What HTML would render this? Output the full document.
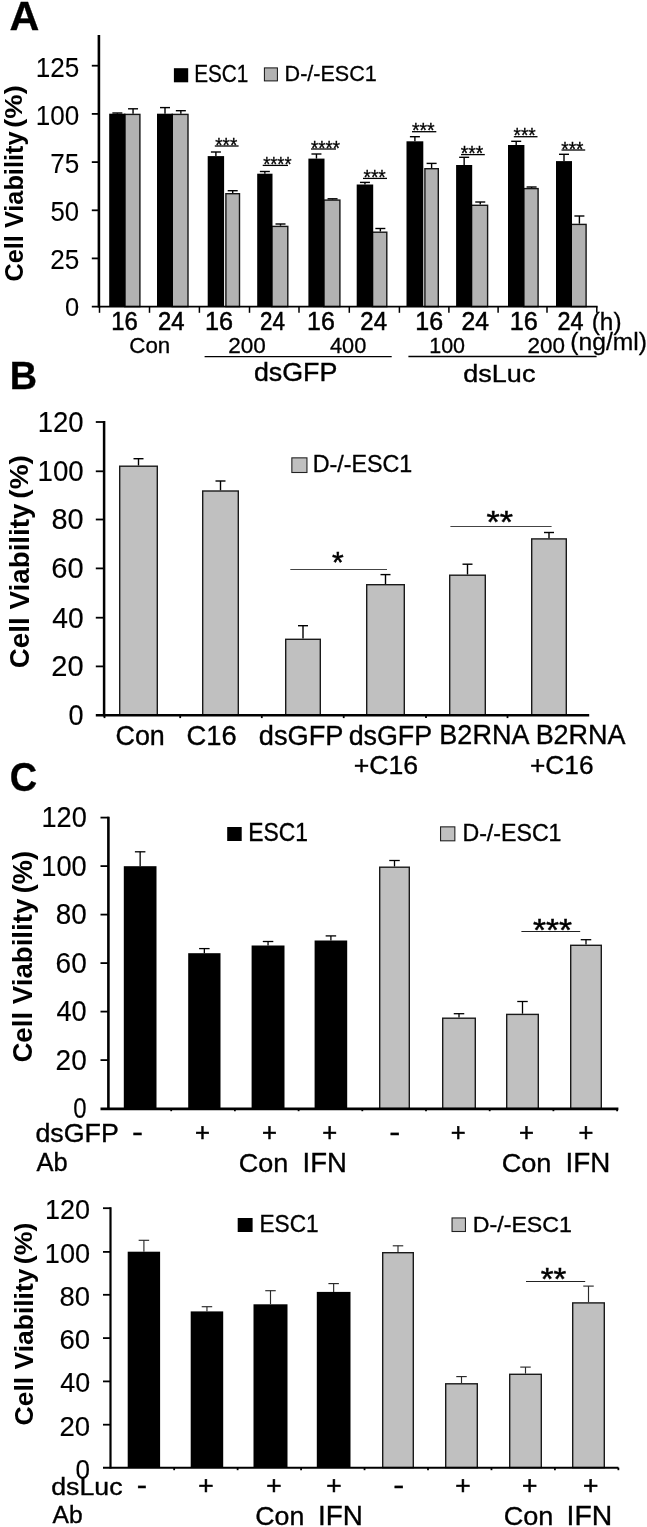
<!DOCTYPE html>
<html lang="en">
<head>
<meta charset="utf-8">
<title>Cell Viability figure</title>
<style>
html,body{margin:0;padding:0;background:#fff;}
body{width:647px;height:1527px;overflow:hidden;}
svg{display:block;font-family:"Liberation Sans",sans-serif;}
</style>
</head>
<body>
<svg width="647" height="1527" viewBox="0 0 647 1527">
<rect x="0" y="0" width="647" height="1527" fill="#fff"/>
<g id="fig">
<text transform="translate(9.57 30.00) scale(0.2067 0.2022)" font-size="200" font-weight="bold" fill="#000" stroke="#000" stroke-width="1.5">A</text>
<text transform="translate(22.90 281.51) rotate(-90) scale(0.1265 0.1310)" font-size="200" font-weight="bold" fill="#000">Cell Viability</text>
<text transform="translate(21.59 127.77) rotate(-90) scale(0.1368 0.1241)" font-size="200" font-weight="bold" fill="#000">(%)</text>
<text transform="translate(35.74 76.52) scale(0.1306 0.1380)" font-size="200" fill="#000" stroke="#000" stroke-width="0.7">125</text>
<text transform="translate(35.75 124.72) scale(0.1302 0.1380)" font-size="200" fill="#000" stroke="#000" stroke-width="0.7">100</text>
<text transform="translate(50.30 172.92) scale(0.1304 0.1400)" font-size="200" fill="#000" stroke="#000" stroke-width="0.7">75</text>
<text transform="translate(50.57 221.12) scale(0.1285 0.1380)" font-size="200" fill="#000" stroke="#000" stroke-width="0.8">50</text>
<text transform="translate(50.30 269.32) scale(0.1304 0.1380)" font-size="200" fill="#000" stroke="#000" stroke-width="0.7">25</text>
<text transform="translate(64.88 315.64) scale(0.1271 0.1317)" font-size="200" fill="#000" stroke="#000" stroke-width="0.8">0</text>
<rect x="124.70" y="114.40" width="15.20" height="192.20" fill="#b2b2b2" stroke="#161616" stroke-width="1.4"/>
<rect x="109.20" y="113.70" width="16.30" height="192.90" fill="#000"/>
<line x1="117.35" y1="113.70" x2="117.35" y2="113.00" stroke="#000" stroke-width="1.4"/>
<line x1="112.35" y1="113.00" x2="122.35" y2="113.00" stroke="#000" stroke-width="1.4"/>
<line x1="133.05" y1="113.70" x2="133.05" y2="108.80" stroke="#000" stroke-width="1.4"/>
<line x1="128.05" y1="108.80" x2="138.05" y2="108.80" stroke="#000" stroke-width="1.4"/>
<rect x="172.20" y="114.40" width="15.80" height="192.20" fill="#b2b2b2" stroke="#161616" stroke-width="1.4"/>
<rect x="157.00" y="113.70" width="16.00" height="192.90" fill="#000"/>
<line x1="165.00" y1="113.70" x2="165.00" y2="107.60" stroke="#000" stroke-width="1.4"/>
<line x1="160.00" y1="107.60" x2="170.00" y2="107.60" stroke="#000" stroke-width="1.4"/>
<line x1="180.85" y1="113.70" x2="180.85" y2="110.70" stroke="#000" stroke-width="1.4"/>
<line x1="175.85" y1="110.70" x2="185.85" y2="110.70" stroke="#000" stroke-width="1.4"/>
<rect x="225.90" y="193.70" width="13.60" height="112.90" fill="#b2b2b2" stroke="#161616" stroke-width="1.4"/>
<rect x="207.70" y="156.10" width="16.40" height="150.50" fill="#000"/>
<line x1="215.90" y1="156.10" x2="215.90" y2="152.00" stroke="#000" stroke-width="1.4"/>
<line x1="210.90" y1="152.00" x2="220.90" y2="152.00" stroke="#000" stroke-width="1.4"/>
<line x1="232.70" y1="193.00" x2="232.70" y2="190.70" stroke="#000" stroke-width="1.4"/>
<line x1="227.70" y1="190.70" x2="237.70" y2="190.70" stroke="#000" stroke-width="1.4"/>
<rect x="271.70" y="226.40" width="16.10" height="80.20" fill="#b2b2b2" stroke="#161616" stroke-width="1.4"/>
<rect x="257.20" y="173.70" width="15.30" height="132.90" fill="#000"/>
<line x1="264.85" y1="173.70" x2="264.85" y2="171.50" stroke="#000" stroke-width="1.4"/>
<line x1="259.85" y1="171.50" x2="269.85" y2="171.50" stroke="#000" stroke-width="1.4"/>
<line x1="280.50" y1="225.70" x2="280.50" y2="224.00" stroke="#000" stroke-width="1.4"/>
<line x1="275.50" y1="224.00" x2="285.50" y2="224.00" stroke="#000" stroke-width="1.4"/>
<rect x="323.70" y="200.10" width="16.20" height="106.50" fill="#b2b2b2" stroke="#161616" stroke-width="1.4"/>
<rect x="308.40" y="158.60" width="16.10" height="148.00" fill="#000"/>
<line x1="316.45" y1="158.60" x2="316.45" y2="154.00" stroke="#000" stroke-width="1.4"/>
<line x1="311.45" y1="154.00" x2="321.45" y2="154.00" stroke="#000" stroke-width="1.4"/>
<line x1="332.55" y1="199.40" x2="332.55" y2="198.80" stroke="#000" stroke-width="1.4"/>
<line x1="327.55" y1="198.80" x2="337.55" y2="198.80" stroke="#000" stroke-width="1.4"/>
<rect x="372.40" y="232.20" width="14.40" height="74.40" fill="#b2b2b2" stroke="#161616" stroke-width="1.4"/>
<rect x="356.70" y="184.50" width="16.50" height="122.10" fill="#000"/>
<line x1="364.95" y1="184.50" x2="364.95" y2="182.40" stroke="#000" stroke-width="1.4"/>
<line x1="359.95" y1="182.40" x2="369.95" y2="182.40" stroke="#000" stroke-width="1.4"/>
<line x1="380.35" y1="231.50" x2="380.35" y2="228.50" stroke="#000" stroke-width="1.4"/>
<line x1="375.35" y1="228.50" x2="385.35" y2="228.50" stroke="#000" stroke-width="1.4"/>
<rect x="424.90" y="168.70" width="13.40" height="137.90" fill="#b2b2b2" stroke="#161616" stroke-width="1.4"/>
<rect x="406.50" y="141.30" width="16.80" height="165.30" fill="#000"/>
<line x1="414.90" y1="141.30" x2="414.90" y2="136.70" stroke="#000" stroke-width="1.4"/>
<line x1="409.90" y1="136.70" x2="419.90" y2="136.70" stroke="#000" stroke-width="1.4"/>
<line x1="431.60" y1="168.00" x2="431.60" y2="163.40" stroke="#000" stroke-width="1.4"/>
<line x1="426.60" y1="163.40" x2="436.60" y2="163.40" stroke="#000" stroke-width="1.4"/>
<rect x="471.40" y="205.30" width="16.20" height="101.30" fill="#b2b2b2" stroke="#161616" stroke-width="1.4"/>
<rect x="456.10" y="165.00" width="16.10" height="141.60" fill="#000"/>
<line x1="464.15" y1="165.00" x2="464.15" y2="157.30" stroke="#000" stroke-width="1.4"/>
<line x1="459.15" y1="157.30" x2="469.15" y2="157.30" stroke="#000" stroke-width="1.4"/>
<line x1="480.25" y1="204.60" x2="480.25" y2="202.00" stroke="#000" stroke-width="1.4"/>
<line x1="475.25" y1="202.00" x2="485.25" y2="202.00" stroke="#000" stroke-width="1.4"/>
<rect x="523.60" y="188.60" width="14.50" height="118.00" fill="#b2b2b2" stroke="#161616" stroke-width="1.4"/>
<rect x="508.00" y="145.00" width="16.40" height="161.60" fill="#000"/>
<line x1="516.20" y1="145.00" x2="516.20" y2="141.30" stroke="#000" stroke-width="1.4"/>
<line x1="511.20" y1="141.30" x2="521.20" y2="141.30" stroke="#000" stroke-width="1.4"/>
<line x1="531.60" y1="187.90" x2="531.60" y2="187.00" stroke="#000" stroke-width="1.4"/>
<line x1="526.60" y1="187.00" x2="536.60" y2="187.00" stroke="#000" stroke-width="1.4"/>
<rect x="571.20" y="224.40" width="14.90" height="82.20" fill="#b2b2b2" stroke="#161616" stroke-width="1.4"/>
<rect x="556.00" y="161.10" width="16.00" height="145.50" fill="#000"/>
<line x1="564.00" y1="161.10" x2="564.00" y2="154.30" stroke="#000" stroke-width="1.4"/>
<line x1="559.00" y1="154.30" x2="569.00" y2="154.30" stroke="#000" stroke-width="1.4"/>
<line x1="579.40" y1="223.70" x2="579.40" y2="216.00" stroke="#000" stroke-width="1.4"/>
<line x1="574.40" y1="216.00" x2="584.40" y2="216.00" stroke="#000" stroke-width="1.4"/>
<line x1="98.90" y1="35.00" x2="98.90" y2="307.50" stroke="#000" stroke-width="2.6"/>
<line x1="91.80" y1="306.60" x2="597.60" y2="306.60" stroke="#000" stroke-width="1.9"/>
<line x1="91.80" y1="65.70" x2="98.90" y2="65.70" stroke="#000" stroke-width="1.8"/>
<line x1="91.80" y1="113.90" x2="98.90" y2="113.90" stroke="#000" stroke-width="1.8"/>
<line x1="91.80" y1="162.10" x2="98.90" y2="162.10" stroke="#000" stroke-width="1.8"/>
<line x1="91.80" y1="210.30" x2="98.90" y2="210.30" stroke="#000" stroke-width="1.8"/>
<line x1="91.80" y1="258.40" x2="98.90" y2="258.40" stroke="#000" stroke-width="1.8"/>
<line x1="99.50" y1="306.60" x2="99.50" y2="312.80" stroke="#000" stroke-width="1.5"/>
<line x1="149.50" y1="306.60" x2="149.50" y2="312.80" stroke="#000" stroke-width="1.5"/>
<line x1="199.40" y1="306.60" x2="199.40" y2="312.80" stroke="#000" stroke-width="1.5"/>
<line x1="249.50" y1="306.60" x2="249.50" y2="312.80" stroke="#000" stroke-width="1.5"/>
<line x1="299.00" y1="306.60" x2="299.00" y2="312.80" stroke="#000" stroke-width="1.5"/>
<line x1="349.30" y1="306.60" x2="349.30" y2="312.80" stroke="#000" stroke-width="1.5"/>
<line x1="399.40" y1="306.60" x2="399.40" y2="312.80" stroke="#000" stroke-width="1.5"/>
<line x1="448.90" y1="306.60" x2="448.90" y2="312.80" stroke="#000" stroke-width="1.5"/>
<line x1="498.10" y1="306.60" x2="498.10" y2="312.80" stroke="#000" stroke-width="1.5"/>
<line x1="547.00" y1="306.60" x2="547.00" y2="312.80" stroke="#000" stroke-width="1.5"/>
<line x1="596.80" y1="306.60" x2="596.80" y2="312.80" stroke="#000" stroke-width="1.5"/>
<rect x="173.90" y="68.20" width="14.30" height="14.10" fill="#000"/>
<text transform="translate(194.14 82.20) scale(0.1038 0.1207)" font-size="200" fill="#000" stroke="#000" stroke-width="2.7">ESC1</text>
<rect x="264.40" y="67.90" width="13.00" height="13.00" fill="#b2b2b2" stroke="#111" stroke-width="1.0"/>
<text transform="translate(284.57 80.80) scale(0.1078 0.1124)" font-size="200" fill="#000" stroke="#000" stroke-width="2.7">D-/-ESC1</text>
<text transform="translate(215.22 151.61) scale(0.0943 0.0971)" font-size="200" fill="#000" stroke="#000" stroke-width="3.1">***</text>
<line x1="214.80" y1="146.00" x2="238.60" y2="146.00" stroke="#000" stroke-width="1.3"/>
<text transform="translate(263.13 171.01) scale(0.0911 0.0971)" font-size="200" fill="#000" stroke="#000" stroke-width="3.2">****</text>
<line x1="262.70" y1="165.40" x2="288.00" y2="165.40" stroke="#000" stroke-width="1.3"/>
<text transform="translate(311.02 154.61) scale(0.0931 0.0971)" font-size="200" fill="#000" stroke="#000" stroke-width="3.2">****</text>
<line x1="311.00" y1="149.00" x2="336.00" y2="149.00" stroke="#000" stroke-width="1.3"/>
<text transform="translate(363.51 184.01) scale(0.0952 0.0971)" font-size="200" fill="#000" stroke="#000" stroke-width="3.1">***</text>
<line x1="363.00" y1="178.40" x2="387.00" y2="178.40" stroke="#000" stroke-width="1.3"/>
<text transform="translate(411.91 137.31) scale(0.0974 0.0971)" font-size="200" fill="#000" stroke="#000" stroke-width="3.1">***</text>
<line x1="412.00" y1="131.70" x2="436.30" y2="131.70" stroke="#000" stroke-width="1.3"/>
<text transform="translate(460.71 160.21) scale(0.0961 0.0971)" font-size="200" fill="#000" stroke="#000" stroke-width="3.1">***</text>
<line x1="461.00" y1="154.60" x2="484.80" y2="154.60" stroke="#000" stroke-width="1.3"/>
<text transform="translate(513.51 142.31) scale(0.0952 0.0971)" font-size="200" fill="#000" stroke="#000" stroke-width="3.1">***</text>
<line x1="513.80" y1="136.70" x2="537.50" y2="136.70" stroke="#000" stroke-width="1.3"/>
<text transform="translate(561.21 155.61) scale(0.0956 0.0971)" font-size="200" fill="#000" stroke="#000" stroke-width="3.1">***</text>
<line x1="561.50" y1="150.00" x2="585.20" y2="150.00" stroke="#000" stroke-width="1.3"/>
<text transform="translate(111.21 329.70) scale(0.1191 0.1250)" font-size="200" fill="#000" stroke="#000" stroke-width="4.1">16</text>
<text transform="translate(157.91 329.70) scale(0.1194 0.1250)" font-size="200" fill="#000" stroke="#000" stroke-width="4.1">24</text>
<text transform="translate(204.91 329.70) scale(0.1261 0.1250)" font-size="200" fill="#000" stroke="#000" stroke-width="4.0">16</text>
<text transform="translate(259.98 329.70) scale(0.1121 0.1250)" font-size="200" fill="#000" stroke="#000" stroke-width="4.2">24</text>
<text transform="translate(307.03 329.70) scale(0.1246 0.1250)" font-size="200" fill="#000" stroke="#000" stroke-width="4.0">16</text>
<text transform="translate(360.30 329.70) scale(0.1199 0.1250)" font-size="200" fill="#000" stroke="#000" stroke-width="4.1">24</text>
<text transform="translate(415.32 329.70) scale(0.1251 0.1250)" font-size="200" fill="#000" stroke="#000" stroke-width="4.0">16</text>
<text transform="translate(461.57 329.70) scale(0.1233 0.1250)" font-size="200" fill="#000" stroke="#000" stroke-width="4.0">24</text>
<text transform="translate(509.71 329.70) scale(0.1261 0.1250)" font-size="200" fill="#000" stroke="#000" stroke-width="4.0">16</text>
<text transform="translate(557.43 329.70) scale(0.1170 0.1250)" font-size="200" fill="#000" stroke="#000" stroke-width="4.1">24</text>
<text transform="translate(591.74 329.57) scale(0.1218 0.1198)" font-size="200" fill="#000" stroke="#000" stroke-width="2.5">(h)</text>
<text transform="translate(129.28 352.60) scale(0.1116 0.1079)" font-size="200" fill="#000" stroke="#000" stroke-width="2.7">Con</text>
<text transform="translate(228.27 352.80) scale(0.1127 0.1079)" font-size="200" fill="#000" stroke="#000" stroke-width="2.7">200</text>
<text transform="translate(329.97 352.80) scale(0.1087 0.1079)" font-size="200" fill="#000" stroke="#000" stroke-width="2.8">400</text>
<text transform="translate(429.19 352.90) scale(0.1074 0.1079)" font-size="200" fill="#000" stroke="#000" stroke-width="2.8">100</text>
<text transform="translate(527.58 352.90) scale(0.1123 0.1079)" font-size="200" fill="#000" stroke="#000" stroke-width="2.7">200</text>
<text transform="translate(570.32 350.25) scale(0.1231 0.1203)" font-size="200" fill="#000" stroke="#000" stroke-width="2.5">(ng/ml)</text>
<line x1="204.60" y1="356.70" x2="391.70" y2="356.70" stroke="#000" stroke-width="1.3"/>
<line x1="408.40" y1="356.50" x2="596.60" y2="356.50" stroke="#000" stroke-width="1.3"/>
<text transform="translate(253.93 381.30) scale(0.1341 0.1269)" font-size="200" fill="#000" stroke="#000" stroke-width="3.1">dsGFP</text>
<text transform="translate(463.32 382.00) scale(0.1351 0.1241)" font-size="200" fill="#000" stroke="#000" stroke-width="3.1">dsLuc</text>
<text transform="translate(9.74 389.10) scale(0.1893 0.1986)" font-size="200" font-weight="bold" fill="#000" stroke="#000" stroke-width="1.5">B</text>
<text transform="translate(29.20 668.31) rotate(-90) scale(0.1391 0.1352)" font-size="200" font-weight="bold" fill="#000">Cell Viability</text>
<text transform="translate(28.47 498.70) rotate(-90) scale(0.1402 0.1316)" font-size="200" font-weight="bold" fill="#000">(%)</text>
<text transform="translate(37.74 431.91) scale(0.1376 0.1444)" font-size="200" fill="#000" stroke="#000" stroke-width="1.1">120</text>
<text transform="translate(37.53 481.21) scale(0.1383 0.1444)" font-size="200" fill="#000" stroke="#000" stroke-width="1.1">100</text>
<text transform="translate(51.50 529.41) scale(0.1447 0.1444)" font-size="200" fill="#000" stroke="#000" stroke-width="1.0">80</text>
<text transform="translate(51.35 578.31) scale(0.1454 0.1444)" font-size="200" fill="#000" stroke="#000" stroke-width="1.0">60</text>
<text transform="translate(52.24 627.61) scale(0.1412 0.1444)" font-size="200" fill="#000" stroke="#000" stroke-width="1.1">40</text>
<text transform="translate(51.35 676.31) scale(0.1454 0.1444)" font-size="200" fill="#000" stroke="#000" stroke-width="1.0">20</text>
<text transform="translate(68.52 725.31) scale(0.1354 0.1444)" font-size="200" fill="#000" stroke="#000" stroke-width="1.1">0</text>
<rect x="119.70" y="466.20" width="37.60" height="249.10" fill="#c0c0c0" stroke="#1a1a1a" stroke-width="1.4"/>
<line x1="138.50" y1="465.50" x2="138.50" y2="458.70" stroke="#000" stroke-width="1.4"/>
<line x1="133.50" y1="458.70" x2="143.50" y2="458.70" stroke="#000" stroke-width="1.4"/>
<rect x="202.70" y="491.00" width="35.60" height="224.30" fill="#c0c0c0" stroke="#1a1a1a" stroke-width="1.4"/>
<line x1="220.50" y1="490.30" x2="220.50" y2="481.00" stroke="#000" stroke-width="1.4"/>
<line x1="215.50" y1="481.00" x2="225.50" y2="481.00" stroke="#000" stroke-width="1.4"/>
<rect x="285.70" y="639.30" width="34.60" height="76.00" fill="#c0c0c0" stroke="#1a1a1a" stroke-width="1.4"/>
<line x1="303.00" y1="638.60" x2="303.00" y2="625.70" stroke="#000" stroke-width="1.4"/>
<line x1="298.00" y1="625.70" x2="308.00" y2="625.70" stroke="#000" stroke-width="1.4"/>
<rect x="366.70" y="584.70" width="37.60" height="130.60" fill="#c0c0c0" stroke="#1a1a1a" stroke-width="1.4"/>
<line x1="385.50" y1="584.00" x2="385.50" y2="574.60" stroke="#000" stroke-width="1.4"/>
<line x1="380.50" y1="574.60" x2="390.50" y2="574.60" stroke="#000" stroke-width="1.4"/>
<rect x="449.70" y="575.20" width="35.60" height="140.10" fill="#c0c0c0" stroke="#1a1a1a" stroke-width="1.4"/>
<line x1="467.50" y1="574.50" x2="467.50" y2="564.20" stroke="#000" stroke-width="1.4"/>
<line x1="462.50" y1="564.20" x2="472.50" y2="564.20" stroke="#000" stroke-width="1.4"/>
<rect x="531.70" y="538.90" width="34.60" height="176.40" fill="#c0c0c0" stroke="#1a1a1a" stroke-width="1.4"/>
<line x1="549.00" y1="538.20" x2="549.00" y2="532.50" stroke="#000" stroke-width="1.4"/>
<line x1="544.00" y1="532.50" x2="554.00" y2="532.50" stroke="#000" stroke-width="1.4"/>
<line x1="104.10" y1="421.10" x2="104.10" y2="716.50" stroke="#000" stroke-width="2.5"/>
<line x1="95.80" y1="715.30" x2="589.20" y2="715.30" stroke="#000" stroke-width="2.5"/>
<line x1="95.80" y1="666.40" x2="104.50" y2="666.40" stroke="#000" stroke-width="1.8"/>
<line x1="95.80" y1="617.70" x2="104.50" y2="617.70" stroke="#000" stroke-width="1.8"/>
<line x1="95.80" y1="568.40" x2="104.50" y2="568.40" stroke="#000" stroke-width="1.8"/>
<line x1="95.80" y1="519.50" x2="104.50" y2="519.50" stroke="#000" stroke-width="1.8"/>
<line x1="95.80" y1="471.30" x2="104.50" y2="471.30" stroke="#000" stroke-width="1.8"/>
<line x1="95.80" y1="422.00" x2="104.50" y2="422.00" stroke="#000" stroke-width="1.8"/>
<line x1="104.50" y1="715.30" x2="104.50" y2="718.10" stroke="#000" stroke-width="1.8"/>
<line x1="180.20" y1="715.30" x2="180.20" y2="718.10" stroke="#000" stroke-width="1.8"/>
<line x1="261.80" y1="715.30" x2="261.80" y2="718.10" stroke="#000" stroke-width="1.8"/>
<line x1="343.70" y1="715.30" x2="343.70" y2="718.10" stroke="#000" stroke-width="1.8"/>
<line x1="426.00" y1="715.30" x2="426.00" y2="718.10" stroke="#000" stroke-width="1.8"/>
<line x1="507.50" y1="715.30" x2="507.50" y2="718.10" stroke="#000" stroke-width="1.8"/>
<rect x="291.85" y="457.85" width="15.10" height="14.65" fill="#c0c0c0" stroke="#222" stroke-width="1.1"/>
<text transform="translate(312.74 472.30) scale(0.1164 0.1193)" font-size="200" fill="#000" stroke="#000" stroke-width="3.0">D-/-ESC1</text>
<text transform="translate(331.95 572.41) scale(0.1500 0.1471)" font-size="200" fill="#000" stroke="#000" stroke-width="3.4">*</text>
<line x1="290.30" y1="569.50" x2="387.00" y2="569.50" stroke="#444" stroke-width="1.0"/>
<text transform="translate(486.49 533.18) scale(0.1707 0.1614)" font-size="200" fill="#000" stroke="#000" stroke-width="3.0">**</text>
<line x1="450.40" y1="526.50" x2="551.60" y2="526.50" stroke="#444" stroke-width="1.0"/>
<text transform="translate(115.45 744.50) scale(0.1346 0.1386)" font-size="200" fill="#000" stroke="#000" stroke-width="2.6">Con</text>
<text transform="translate(186.53 744.50) scale(0.1367 0.1357)" font-size="200" fill="#000" stroke="#000" stroke-width="2.6">C16</text>
<text transform="translate(258.81 744.60) scale(0.1359 0.1338)" font-size="200" fill="#000" stroke="#000" stroke-width="2.6">dsGFP</text>
<text transform="translate(348.63 744.60) scale(0.1343 0.1338)" font-size="200" fill="#000" stroke="#000" stroke-width="2.6">dsGFP</text>
<text transform="translate(353.67 774.20) scale(0.1333 0.1329)" font-size="200" fill="#000" stroke="#000" stroke-width="2.6">+C16</text>
<text transform="translate(439.34 744.30) scale(0.1352 0.1343)" font-size="200" fill="#000" stroke="#000" stroke-width="2.6">B2RNA</text>
<text transform="translate(535.64 744.30) scale(0.1347 0.1343)" font-size="200" fill="#000" stroke="#000" stroke-width="2.6">B2RNA</text>
<text transform="translate(529.99 774.20) scale(0.1314 0.1329)" font-size="200" fill="#000" stroke="#000" stroke-width="2.6">+C16</text>
<text transform="translate(9.69 790.69) scale(0.1893 0.2042)" font-size="200" font-weight="bold" fill="#000" stroke="#000" stroke-width="1.5">C</text>
<text transform="translate(32.00 1062.61) rotate(-90) scale(0.1383 0.1366)" font-size="200" font-weight="bold" fill="#000">Cell Viability</text>
<text transform="translate(31.85 893.16) rotate(-90) scale(0.1357 0.1369)" font-size="200" font-weight="bold" fill="#000">(%)</text>
<text transform="translate(41.46 827.21) scale(0.1357 0.1465)" font-size="200" fill="#000" stroke="#000" stroke-width="1.1">120</text>
<text transform="translate(41.25 875.71) scale(0.1363 0.1465)" font-size="200" fill="#000" stroke="#000" stroke-width="1.1">100</text>
<text transform="translate(55.75 924.21) scale(0.1393 0.1465)" font-size="200" fill="#000" stroke="#000" stroke-width="1.1">80</text>
<text transform="translate(55.60 972.71) scale(0.1400 0.1465)" font-size="200" fill="#000" stroke="#000" stroke-width="1.0">60</text>
<text transform="translate(56.46 1021.21) scale(0.1360 0.1465)" font-size="200" fill="#000" stroke="#000" stroke-width="1.1">40</text>
<text transform="translate(55.60 1069.71) scale(0.1400 0.1465)" font-size="200" fill="#000" stroke="#000" stroke-width="1.0">20</text>
<text transform="translate(73.24 1118.21) scale(0.1198 0.1465)" font-size="200" fill="#000" stroke="#000" stroke-width="1.1">0</text>
<rect x="123.80" y="866.20" width="32.70" height="242.40" fill="#000"/>
<line x1="140.15" y1="866.20" x2="140.15" y2="851.80" stroke="#000" stroke-width="1.3"/>
<line x1="134.90" y1="851.80" x2="145.40" y2="851.80" stroke="#000" stroke-width="1.3"/>
<rect x="188.20" y="953.20" width="32.30" height="155.40" fill="#000"/>
<line x1="204.35" y1="953.20" x2="204.35" y2="948.60" stroke="#000" stroke-width="1.3"/>
<line x1="199.10" y1="948.60" x2="209.60" y2="948.60" stroke="#000" stroke-width="1.3"/>
<rect x="251.60" y="945.50" width="32.90" height="163.10" fill="#000"/>
<line x1="268.05" y1="945.50" x2="268.05" y2="941.50" stroke="#000" stroke-width="1.3"/>
<line x1="262.80" y1="941.50" x2="273.30" y2="941.50" stroke="#000" stroke-width="1.3"/>
<rect x="314.60" y="940.50" width="32.60" height="168.10" fill="#000"/>
<line x1="330.90" y1="940.50" x2="330.90" y2="935.90" stroke="#000" stroke-width="1.3"/>
<line x1="325.65" y1="935.90" x2="336.15" y2="935.90" stroke="#000" stroke-width="1.3"/>
<rect x="379.70" y="867.20" width="29.60" height="241.40" fill="#c0c0c0" stroke="#1a1a1a" stroke-width="1.4"/>
<line x1="394.50" y1="866.50" x2="394.50" y2="860.50" stroke="#000" stroke-width="1.3"/>
<line x1="389.25" y1="860.50" x2="399.75" y2="860.50" stroke="#000" stroke-width="1.3"/>
<rect x="442.70" y="1018.20" width="32.60" height="90.40" fill="#c0c0c0" stroke="#1a1a1a" stroke-width="1.4"/>
<line x1="459.00" y1="1017.50" x2="459.00" y2="1013.70" stroke="#000" stroke-width="1.3"/>
<line x1="453.75" y1="1013.70" x2="464.25" y2="1013.70" stroke="#000" stroke-width="1.3"/>
<rect x="506.70" y="1014.40" width="31.60" height="94.20" fill="#c0c0c0" stroke="#1a1a1a" stroke-width="1.4"/>
<line x1="522.50" y1="1013.70" x2="522.50" y2="1001.50" stroke="#000" stroke-width="1.3"/>
<line x1="517.25" y1="1001.50" x2="527.75" y2="1001.50" stroke="#000" stroke-width="1.3"/>
<rect x="570.70" y="945.30" width="30.60" height="163.30" fill="#c0c0c0" stroke="#1a1a1a" stroke-width="1.4"/>
<line x1="586.00" y1="944.60" x2="586.00" y2="939.70" stroke="#000" stroke-width="1.3"/>
<line x1="580.75" y1="939.70" x2="591.25" y2="939.70" stroke="#000" stroke-width="1.3"/>
<line x1="108.40" y1="816.70" x2="108.40" y2="1109.80" stroke="#000" stroke-width="2.6"/>
<line x1="100.50" y1="1108.90" x2="618.40" y2="1108.90" stroke="#000" stroke-width="2.6"/>
<line x1="100.50" y1="1060.10" x2="108.80" y2="1060.10" stroke="#000" stroke-width="1.8"/>
<line x1="100.50" y1="1011.60" x2="108.80" y2="1011.60" stroke="#000" stroke-width="1.8"/>
<line x1="100.50" y1="963.10" x2="108.80" y2="963.10" stroke="#000" stroke-width="1.8"/>
<line x1="100.50" y1="914.60" x2="108.80" y2="914.60" stroke="#000" stroke-width="1.8"/>
<line x1="100.50" y1="866.10" x2="108.80" y2="866.10" stroke="#000" stroke-width="1.8"/>
<line x1="100.50" y1="817.60" x2="108.80" y2="817.60" stroke="#000" stroke-width="1.8"/>
<line x1="171.20" y1="1108.60" x2="171.20" y2="1111.20" stroke="#000" stroke-width="1.8"/>
<line x1="234.90" y1="1108.60" x2="234.90" y2="1111.20" stroke="#000" stroke-width="1.8"/>
<line x1="298.60" y1="1108.60" x2="298.60" y2="1111.20" stroke="#000" stroke-width="1.8"/>
<line x1="362.30" y1="1108.60" x2="362.30" y2="1111.20" stroke="#000" stroke-width="1.8"/>
<line x1="426.00" y1="1108.60" x2="426.00" y2="1111.20" stroke="#000" stroke-width="1.8"/>
<line x1="489.70" y1="1108.60" x2="489.70" y2="1111.20" stroke="#000" stroke-width="1.8"/>
<line x1="553.40" y1="1108.60" x2="553.40" y2="1111.20" stroke="#000" stroke-width="1.8"/>
<line x1="617.10" y1="1108.60" x2="617.10" y2="1111.20" stroke="#000" stroke-width="1.8"/>
<rect x="227.20" y="827.00" width="14.50" height="14.00" fill="#000"/>
<text transform="translate(248.17 841.40) scale(0.1143 0.1250)" font-size="200" fill="#000" stroke="#000" stroke-width="2.9">ESC1</text>
<rect x="440.55" y="826.85" width="14.30" height="13.95" fill="#c0c0c0" stroke="#222" stroke-width="1.1"/>
<text transform="translate(462.45 841.40) scale(0.1158 0.1207)" font-size="200" fill="#000" stroke="#000" stroke-width="3.0">D-/-ESC1</text>
<text transform="translate(532.90 940.78) scale(0.1675 0.1600)" font-size="200" fill="#000" stroke="#000" stroke-width="3.1">***</text>
<line x1="521.40" y1="931.50" x2="580.20" y2="931.50" stroke="#222" stroke-width="1.0"/>
<text transform="translate(35.43 1141.50) scale(0.1341 0.1276)" font-size="200" fill="#000" stroke="#000" stroke-width="2.7">dsGFP</text>
<text transform="translate(36.50 1171.40) scale(0.1271 0.1269)" font-size="200" fill="#000" stroke="#000" stroke-width="2.8">Ab</text>
<text transform="translate(132.01 1140.99) scale(0.1653 0.1375)" font-size="200" fill="#000" stroke="#000" stroke-width="2.3">-</text>
<text transform="translate(389.21 1140.99) scale(0.1653 0.1375)" font-size="200" fill="#000" stroke="#000" stroke-width="2.3">-</text>
<text transform="translate(194.92 1140.98) scale(0.1278 0.1265)" font-size="200" fill="#000" stroke="#000" stroke-width="3.9">+</text>
<text transform="translate(262.02 1140.98) scale(0.1278 0.1265)" font-size="200" fill="#000" stroke="#000" stroke-width="3.9">+</text>
<text transform="translate(322.32 1140.98) scale(0.1278 0.1265)" font-size="200" fill="#000" stroke="#000" stroke-width="3.9">+</text>
<text transform="translate(450.72 1140.98) scale(0.1278 0.1265)" font-size="200" fill="#000" stroke="#000" stroke-width="3.9">+</text>
<text transform="translate(518.92 1140.98) scale(0.1278 0.1265)" font-size="200" fill="#000" stroke="#000" stroke-width="3.9">+</text>
<text transform="translate(578.52 1140.98) scale(0.1278 0.1265)" font-size="200" fill="#000" stroke="#000" stroke-width="3.9">+</text>
<text transform="translate(238.85 1171.60) scale(0.1349 0.1329)" font-size="200" fill="#000" stroke="#000" stroke-width="2.6">Con</text>
<text transform="translate(302.62 1171.60) scale(0.1375 0.1348)" font-size="200" fill="#000" stroke="#000" stroke-width="2.6">IFN</text>
<text transform="translate(501.64 1171.60) scale(0.1358 0.1329)" font-size="200" fill="#000" stroke="#000" stroke-width="2.6">Con</text>
<text transform="translate(565.50 1171.60) scale(0.1389 0.1348)" font-size="200" fill="#000" stroke="#000" stroke-width="2.6">IFN</text>
<text transform="translate(33.30 1425.46) rotate(-90) scale(0.1325 0.1262)" font-size="200" font-weight="bold" fill="#000">Cell Viability</text>
<text transform="translate(32.48 1264.14) rotate(-90) scale(0.1340 0.1219)" font-size="200" font-weight="bold" fill="#000">(%)</text>
<text transform="translate(45.07 1219.22) scale(0.1350 0.1415)" font-size="200" fill="#000" stroke="#000" stroke-width="1.1">120</text>
<text transform="translate(44.86 1262.92) scale(0.1357 0.1415)" font-size="200" fill="#000" stroke="#000" stroke-width="1.1">100</text>
<text transform="translate(59.56 1305.82) scale(0.1374 0.1415)" font-size="200" fill="#000" stroke="#000" stroke-width="1.1">80</text>
<text transform="translate(59.42 1349.12) scale(0.1380 0.1415)" font-size="200" fill="#000" stroke="#000" stroke-width="1.1">60</text>
<text transform="translate(60.26 1392.42) scale(0.1341 0.1415)" font-size="200" fill="#000" stroke="#000" stroke-width="1.1">40</text>
<text transform="translate(59.42 1435.72) scale(0.1380 0.1415)" font-size="200" fill="#000" stroke="#000" stroke-width="1.1">20</text>
<text transform="translate(75.56 1478.62) scale(0.1302 0.1415)" font-size="200" fill="#000" stroke="#000" stroke-width="1.1">0</text>
<rect x="127.70" y="1251.70" width="32.40" height="215.90" fill="#000"/>
<line x1="143.90" y1="1251.70" x2="143.90" y2="1240.30" stroke="#2a2a2a" stroke-width="1.15"/>
<line x1="138.65" y1="1240.30" x2="149.15" y2="1240.30" stroke="#2a2a2a" stroke-width="1.15"/>
<rect x="190.70" y="1311.40" width="32.50" height="156.20" fill="#000"/>
<line x1="206.95" y1="1311.40" x2="206.95" y2="1306.70" stroke="#2a2a2a" stroke-width="1.15"/>
<line x1="201.70" y1="1306.70" x2="212.20" y2="1306.70" stroke="#2a2a2a" stroke-width="1.15"/>
<rect x="253.50" y="1304.30" width="34.00" height="163.30" fill="#000"/>
<line x1="270.50" y1="1304.30" x2="270.50" y2="1290.70" stroke="#2a2a2a" stroke-width="1.15"/>
<line x1="265.25" y1="1290.70" x2="275.75" y2="1290.70" stroke="#2a2a2a" stroke-width="1.15"/>
<rect x="316.80" y="1291.90" width="33.70" height="175.70" fill="#000"/>
<line x1="333.65" y1="1291.90" x2="333.65" y2="1283.60" stroke="#2a2a2a" stroke-width="1.15"/>
<line x1="328.40" y1="1283.60" x2="338.90" y2="1283.60" stroke="#2a2a2a" stroke-width="1.15"/>
<rect x="382.70" y="1252.70" width="30.60" height="214.90" fill="#c0c0c0" stroke="#1a1a1a" stroke-width="1.4"/>
<line x1="398.00" y1="1252.00" x2="398.00" y2="1245.80" stroke="#2a2a2a" stroke-width="1.15"/>
<line x1="392.75" y1="1245.80" x2="403.25" y2="1245.80" stroke="#2a2a2a" stroke-width="1.15"/>
<rect x="445.70" y="1383.80" width="31.60" height="83.80" fill="#c0c0c0" stroke="#1a1a1a" stroke-width="1.4"/>
<line x1="461.50" y1="1383.10" x2="461.50" y2="1376.60" stroke="#2a2a2a" stroke-width="1.15"/>
<line x1="456.25" y1="1376.60" x2="466.75" y2="1376.60" stroke="#2a2a2a" stroke-width="1.15"/>
<rect x="509.70" y="1374.30" width="31.60" height="93.30" fill="#c0c0c0" stroke="#1a1a1a" stroke-width="1.4"/>
<line x1="525.50" y1="1373.60" x2="525.50" y2="1367.10" stroke="#2a2a2a" stroke-width="1.15"/>
<line x1="520.25" y1="1367.10" x2="530.75" y2="1367.10" stroke="#2a2a2a" stroke-width="1.15"/>
<rect x="572.70" y="1302.90" width="31.60" height="164.70" fill="#c0c0c0" stroke="#1a1a1a" stroke-width="1.4"/>
<line x1="588.50" y1="1302.20" x2="588.50" y2="1286.10" stroke="#2a2a2a" stroke-width="1.15"/>
<line x1="583.25" y1="1286.10" x2="593.75" y2="1286.10" stroke="#2a2a2a" stroke-width="1.15"/>
<line x1="110.50" y1="1207.30" x2="110.50" y2="1468.60" stroke="#000" stroke-width="2.2"/>
<line x1="103.00" y1="1467.70" x2="618.40" y2="1467.70" stroke="#000" stroke-width="2.1"/>
<line x1="103.00" y1="1424.70" x2="110.70" y2="1424.70" stroke="#000" stroke-width="1.8"/>
<line x1="103.00" y1="1381.40" x2="110.70" y2="1381.40" stroke="#000" stroke-width="1.8"/>
<line x1="103.00" y1="1338.10" x2="110.70" y2="1338.10" stroke="#000" stroke-width="1.8"/>
<line x1="103.00" y1="1294.80" x2="110.70" y2="1294.80" stroke="#000" stroke-width="1.8"/>
<line x1="103.00" y1="1251.90" x2="110.70" y2="1251.90" stroke="#000" stroke-width="1.8"/>
<line x1="103.00" y1="1208.20" x2="110.70" y2="1208.20" stroke="#000" stroke-width="1.8"/>
<line x1="174.16" y1="1467.60" x2="174.16" y2="1470.20" stroke="#000" stroke-width="1.8"/>
<line x1="237.62" y1="1467.60" x2="237.62" y2="1470.20" stroke="#000" stroke-width="1.8"/>
<line x1="301.08" y1="1467.60" x2="301.08" y2="1470.20" stroke="#000" stroke-width="1.8"/>
<line x1="364.54" y1="1467.60" x2="364.54" y2="1470.20" stroke="#000" stroke-width="1.8"/>
<line x1="428.00" y1="1467.60" x2="428.00" y2="1470.20" stroke="#000" stroke-width="1.8"/>
<line x1="491.46" y1="1467.60" x2="491.46" y2="1470.20" stroke="#000" stroke-width="1.8"/>
<line x1="554.92" y1="1467.60" x2="554.92" y2="1470.20" stroke="#000" stroke-width="1.8"/>
<line x1="618.38" y1="1467.60" x2="618.38" y2="1470.20" stroke="#000" stroke-width="1.8"/>
<rect x="237.70" y="1218.00" width="14.90" height="14.00" fill="#000"/>
<text transform="translate(259.49 1232.00) scale(0.1131 0.1171)" font-size="200" fill="#000" stroke="#000" stroke-width="3.0">ESC1</text>
<rect x="452.05" y="1217.95" width="13.40" height="13.55" fill="#c0c0c0" stroke="#222" stroke-width="1.1"/>
<text transform="translate(472.74 1232.00) scale(0.1160 0.1131)" font-size="200" fill="#000" stroke="#000" stroke-width="3.1">D-/-ESC1</text>
<text transform="translate(540.81 1290.49) scale(0.1647 0.1571)" font-size="200" fill="#000" stroke="#000" stroke-width="3.1">**</text>
<line x1="526.00" y1="1281.50" x2="585.20" y2="1281.50" stroke="#222" stroke-width="1.0"/>
<text transform="translate(51.23 1494.70) scale(0.1338 0.1200)" font-size="200" fill="#000" stroke="#000" stroke-width="2.8">dsLuc</text>
<text transform="translate(52.60 1523.30) scale(0.1229 0.1179)" font-size="200" fill="#000" stroke="#000" stroke-width="2.9">Ab</text>
<text transform="translate(136.80 1494.39) scale(0.1551 0.1375)" font-size="200" fill="#000" stroke="#000" stroke-width="2.4">-</text>
<text transform="translate(393.21 1494.39) scale(0.1653 0.1375)" font-size="200" fill="#000" stroke="#000" stroke-width="2.3">-</text>
<text transform="translate(198.28 1493.68) scale(0.1320 0.1265)" font-size="200" fill="#000" stroke="#000" stroke-width="3.9">+</text>
<text transform="translate(266.28 1493.68) scale(0.1320 0.1265)" font-size="200" fill="#000" stroke="#000" stroke-width="3.9">+</text>
<text transform="translate(326.28 1493.68) scale(0.1320 0.1265)" font-size="200" fill="#000" stroke="#000" stroke-width="3.9">+</text>
<text transform="translate(455.28 1493.68) scale(0.1320 0.1265)" font-size="200" fill="#000" stroke="#000" stroke-width="3.9">+</text>
<text transform="translate(521.88 1493.68) scale(0.1320 0.1265)" font-size="200" fill="#000" stroke="#000" stroke-width="3.9">+</text>
<text transform="translate(582.98 1493.68) scale(0.1320 0.1265)" font-size="200" fill="#000" stroke="#000" stroke-width="3.9">+</text>
<text transform="translate(255.26 1524.60) scale(0.1337 0.1329)" font-size="200" fill="#000" stroke="#000" stroke-width="2.6">Con</text>
<text transform="translate(318.09 1524.60) scale(0.1392 0.1348)" font-size="200" fill="#000" stroke="#000" stroke-width="2.6">IFN</text>
<text transform="translate(503.65 1524.60) scale(0.1355 0.1329)" font-size="200" fill="#000" stroke="#000" stroke-width="2.6">Con</text>
<text transform="translate(566.54 1524.60) scale(0.1420 0.1348)" font-size="200" fill="#000" stroke="#000" stroke-width="2.5">IFN</text>
</g>
</svg>
</body>
</html>
